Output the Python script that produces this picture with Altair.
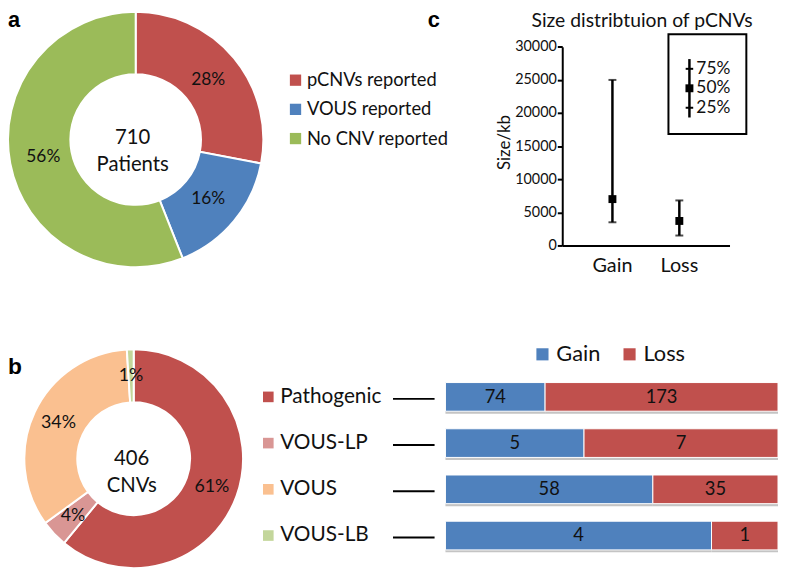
import altair as alt
import pandas as pd

# ---------------- data ----------------
a_categories = ["pCNVs reported", "VOUS reported", "No CNV reported"]
a_percent = [28, 16, 56]
a_center_lines = ["710", "Patients"]

b_categories = ["Pathogenic", "VOUS-LP", "VOUS", "VOUS-LB"]
b_percent = [61, 4, 34, 1]
b_center_lines = ["406", "CNVs"]

cnv_types = ["Gain", "Loss"]
gain_counts = [74, 5, 58, 4]
loss_counts = [173, 7, 35, 1]

size_types = ["Gain", "Loss"]
size_q25 = [3500, 1500]
size_median = [7000, 3700]
size_q75 = [25000, 6800]
size_ticks = [0, 5000, 10000, 15000, 20000, 25000, 30000]
key_labels = ["75%", "50%", "25%"]

# ---------------- style ----------------
RED, BLUE, GREEN = "#C0504D", "#4F81BD", "#9BBB59"
PINK, PEACH, LGREEN = "#D99694", "#FAC090", "#C3D69B"
FONT = "Lato"
BOLD = "Liberation Sans"
INK = "#111111"
W, H = 779, 563

one = pd.DataFrame({"d": [0]})

# ---------------- panel a: donut ----------------
df_a = pd.DataFrame({"cat": a_categories, "pct": a_percent, "idx": list(range(len(a_categories)))})
df_a["label"] = df_a["pct"].astype(str) + "%"
color_a = alt.Color("cat:N", scale=alt.Scale(domain=a_categories, range=[RED, BLUE, GREEN]), legend=None)
base_a = alt.Chart(df_a).encode(
    theta=alt.Theta("pct:Q", stack=True), order=alt.Order("idx:Q"),
    x=alt.value(129), y=alt.value(130))
arc_a = base_a.mark_arc(innerRadius=66, outerRadius=129, stroke="white", strokeWidth=2).encode(color=color_a)
lab_a = base_a.mark_text(radius=95, font=FONT, fontSize=17.5, color=INK).encode(text="label:N")
ctr_a = alt.Chart(pd.DataFrame({"t": ["\n".join(a_center_lines)]})).mark_text(
    font=FONT, fontSize=20.5, color=INK, lineBreak="\n", lineHeight=27, baseline="middle"
).encode(x=alt.value(126), y=alt.value(128.5), text="t:N")
ya = alt.Y("cat:N", scale=alt.Scale(domain=a_categories, range=[70, 129], padding=0), axis=None)
sq_a = alt.Chart(df_a).mark_square(size=130, opacity=1).encode(x=alt.value(290.5), y=ya, color=color_a)
tx_a = alt.Chart(df_a).mark_text(align="left", baseline="middle", font=FONT, fontSize=18.5, color=INK).encode(
    x=alt.value(302), y=ya, text="cat:N")
let_a = alt.Chart(one).mark_text(text="a", font=BOLD, fontWeight="bold", fontSize=22, color="black",
                                 align="left", baseline="alphabetic").encode(x=alt.value(0), y=alt.value(16))
layer_a = alt.layer(arc_a, lab_a, ctr_a, sq_a, tx_a, let_a)

# ---------------- panel b: donut ----------------
df_b = pd.DataFrame({"cat": b_categories, "pct": b_percent, "idx": list(range(len(b_categories)))})
df_b["label"] = df_b["pct"].astype(str) + "%"
color_b = alt.Color("cat:N", scale=alt.Scale(domain=b_categories, range=[RED, PINK, PEACH, LGREEN]), legend=None)
base_b = alt.Chart(df_b).encode(
    theta=alt.Theta("pct:Q", stack=True), order=alt.Order("idx:Q"),
    x=alt.value(127), y=alt.value(452.5))
arc_b = base_b.mark_arc(innerRadius=57, outerRadius=110.5, stroke="white", strokeWidth=2).encode(color=color_b)
lab_b = base_b.mark_text(radius=84, font=FONT, fontSize=18, color=INK).encode(text="label:N")
ctr_b = alt.Chart(pd.DataFrame({"t": ["\n".join(b_center_lines)]})).mark_text(
    font=FONT, fontSize=20.5, color=INK, lineBreak="\n", lineHeight=27, baseline="middle"
).encode(x=alt.value(125), y=alt.value(453), text="t:N")
let_b = alt.Chart(one).mark_text(text="b", font=BOLD, fontWeight="bold", fontSize=23, color="black",
                                 align="left", baseline="alphabetic").encode(x=alt.value(0), y=alt.value(367))
layer_b = alt.layer(arc_b, lab_b, ctr_b, let_b)

# ---------------- panel b: legend + stacked bars ----------------
rows = []
for i, c in enumerate(b_categories):
    rows.append({"cat": c, "type": cnv_types[0], "n": gain_counts[i], "t": 0})
    rows.append({"cat": c, "type": cnv_types[1], "n": loss_counts[i], "t": 1})
df_bars = pd.DataFrame(rows)

yb = alt.Scale(domain=b_categories, range=[366.65, 553.45], paddingInner=0.38, paddingOuter=0.19)
xb = alt.Scale(domain=[0, 1], range=[442, 778], nice=False, zero=False)
color_c = alt.Scale(domain=b_categories + cnv_types, range=[RED, PINK, PEACH, LGREEN, BLUE, RED])

shadow = alt.Chart(df_bars).mark_bar(color="#c4c4c4", yOffset=2.5).encode(
    x=alt.X("n:Q", stack="normalize", scale=xb, axis=None),
    y=alt.Y("cat:N", scale=yb, axis=None), order=alt.Order("t:Q"))
bars = alt.Chart(df_bars).mark_bar(stroke="white", strokeWidth=1).encode(
    x=alt.X("n:Q", stack="normalize", scale=xb, axis=None),
    y=alt.Y("cat:N", scale=yb, axis=None),
    color=alt.Color("type:N", scale=color_c, legend=None),
    order=alt.Order("t:Q"))
bar_txt = alt.Chart(df_bars).transform_stack(
    stack="n", groupby=["cat"], as_=["s0", "s1"], offset="normalize",
    sort=[alt.SortField("t", order="ascending")]
).transform_calculate(mid="(datum.s0 + datum.s1) / 2").mark_text(
    font=FONT, fontSize=18.5, color=INK, baseline="middle"
).encode(x=alt.X("mid:Q", scale=xb, axis=None), y=alt.Y("cat:N", scale=yb, axis=None), text="n:Q")
leg_sq_b = alt.Chart(df_b).mark_square(size=115, opacity=1).encode(
    x=alt.value(263), y=alt.Y("cat:N", scale=yb, axis=None), color=alt.Color("cat:N", scale=color_c, legend=None))
leg_tx_b = alt.Chart(df_b).mark_text(align="left", baseline="middle", font=FONT, fontSize=21, color=INK).encode(
    x=alt.value(275), y=alt.Y("cat:N", scale=yb, axis=None), text="cat:N")
dashes = alt.Chart(df_b).mark_rule(color="black", strokeWidth=2, yOffset=2).encode(
    x=alt.value(389), x2=alt.value(431), y=alt.Y("cat:N", scale=yb, axis=None))
layer_bars = alt.layer(shadow, bars, bar_txt, leg_sq_b, leg_tx_b, dashes)

# Gain / Loss legend
df_gl = pd.DataFrame({"type": cnv_types})
xgl = alt.X("type:N", scale=alt.Scale(domain=cnv_types, range=[540, 628], padding=0), axis=None)
gl_sq = alt.Chart(df_gl).mark_square(size=150, opacity=1).encode(
    x=xgl, y=alt.value(347), color=alt.Color("type:N", scale=alt.Scale(domain=cnv_types, range=[BLUE, RED]), legend=None))
gl_tx = alt.Chart(df_gl).mark_text(align="left", baseline="middle", dx=14, font=FONT, fontSize=22, color=INK).encode(
    x=xgl, y=alt.value(347), text="type:N")
layer_gl = alt.layer(gl_sq, gl_tx)

# ---------------- panel c: size distribution ----------------
df_c = pd.DataFrame({"type": size_types, "q25": size_q25, "med": size_median, "q75": size_q75})
ax_x = alt.Axis(orient="bottom", offset=237 - H, domainColor="black", domainWidth=2, ticks=False,
                labelFont=FONT, labelFontSize=20, labelColor=INK, labelPadding=10, labelAngle=0,
                title=None, grid=False)
ax_y = alt.Axis(orient="left", offset=-560, values=size_ticks, format="d", domainColor="black",
                domainWidth=2, tickColor="black", tickWidth=2, tickSize=5, labelFont=FONT,
                labelFontSize=14.5, labelColor=INK, labelPadding=1, grid=False, title=None)
xc = alt.Scale(domain=size_types, range=[560, 729], padding=0.5)
yc = alt.Scale(domain=[0, 30000], range=[237, 36.3], nice=False)

stem = alt.Chart(df_c).mark_rule(color="black", strokeWidth=2.5).encode(
    x=alt.X("type:N", scale=xc, axis=ax_x), y=alt.Y("q25:Q", scale=yc, axis=ax_y), y2="q75:Q")
cap_lo = alt.Chart(df_c).mark_tick(color="black", size=8, thickness=2).encode(
    x=alt.X("type:N", scale=xc, axis=ax_x), y=alt.Y("q25:Q", scale=yc, axis=ax_y))
cap_hi = alt.Chart(df_c).mark_tick(color="black", size=8, thickness=2).encode(
    x=alt.X("type:N", scale=xc, axis=ax_x), y=alt.Y("q75:Q", scale=yc, axis=ax_y))
med = alt.Chart(df_c).mark_square(color="black", size=64, opacity=1).encode(
    x=alt.X("type:N", scale=xc, axis=ax_x), y=alt.Y("med:Q", scale=yc, axis=ax_y))
let_c = alt.Chart(one).mark_text(text="c", font=BOLD, fontWeight="bold", fontSize=22, color="black",
                                 align="left", baseline="alphabetic").encode(x=alt.value(424), y=alt.value(16))
title_c = alt.Chart(one).mark_text(text="Size distribtuion of pCNVs", font=FONT, fontSize=19.5, color=INK,
                                   align="left", baseline="alphabetic").encode(x=alt.value(529), y=alt.value(16))
ytitle_c = alt.Chart(one).mark_text(text="Size/kb", font=FONT, fontSize=17, color=INK, angle=270,
                                    align="center", baseline="middle").encode(x=alt.value(502), y=alt.value(133))
box = alt.Chart(one).mark_rect(filled=False, color="black", strokeWidth=2).encode(
    x=alt.value(667.3), x2=alt.value(746), y=alt.value(23.7), y2=alt.value(124.3))
layer_c = alt.layer(stem, cap_lo, cap_hi, med, let_c, title_c, ytitle_c, box)

# inset key
df_k = pd.DataFrame({"k": key_labels})
yk = alt.Y("k:N", scale=alt.Scale(domain=key_labels, range=[48.7, 107.7], padding=0), axis=None)
k_stem = alt.Chart(one).mark_rule(color="black", strokeWidth=2.5).encode(
    x=alt.value(688.5), y=alt.value(48.7), y2=alt.value(107.7))
k_caps = alt.Chart(df_k).transform_filter(alt.datum.k != key_labels[1]).mark_rule(
    color="black", strokeWidth=2).encode(x=alt.value(684.7), x2=alt.value(692.3), y=yk)
k_med = alt.Chart(df_k).transform_filter(alt.datum.k == key_labels[1]).mark_square(
    color="black", size=64, opacity=1).encode(x=alt.value(688.5), y=yk)
k_txt = alt.Chart(df_k).mark_text(align="left", baseline="middle", font=FONT, fontSize=17.5, color=INK).encode(
    x=alt.value(695.5), y=yk, text="k:N")
layer_k = alt.layer(k_stem, k_caps, k_med, k_txt)

chart = alt.layer(layer_a, layer_b, layer_bars, layer_gl, layer_c, layer_k).resolve_scale(
    x="independent", y="independent", color="independent", theta="independent"
).properties(
    width=W, height=H, padding=0, background="white", autosize=alt.AutoSizeParams(type="none")
).configure_view(strokeWidth=0, stroke=None)

chart.save("out.html", embed_options={"renderer": "svg", "actions": False})
